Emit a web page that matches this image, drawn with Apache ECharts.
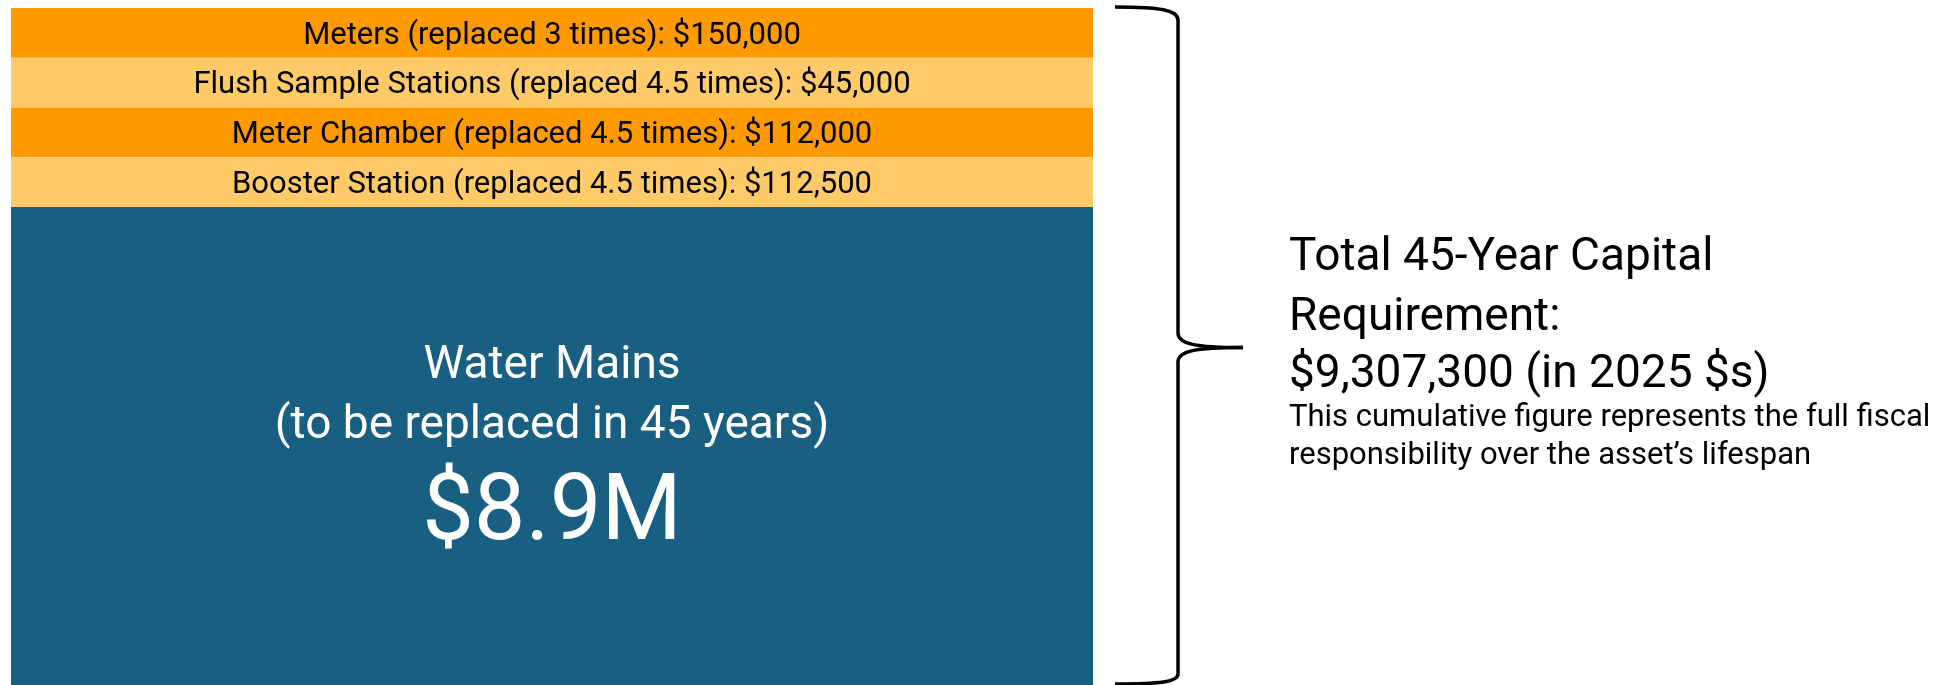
<!DOCTYPE html>
<html>

<head>
    <meta charset="utf-8">
    <title>Total 45-Year Capital Requirement</title>
    <style>
        html, body { margin: 0; padding: 0; background: #fff; }
        #main { width: 1944px; height: 685px; }
    </style>
</head>

<body>
    <div id="main"></div>
</body>
<script type="text/javascript" src="https://cdn.jsdelivr.net/npm/echarts@6/dist/echarts.min.js"></script>
<script type="text/javascript">
    // 数据
    var segments = ['Meters', 'Flush Sample Stations', 'Meter Chamber', 'Booster Station', 'Water Mains'];
    var replacedTimes = [3, 4.5, 4.5, 4.5, null];
    var costs = [150000, 45000, 112000, 112500, 8900000];
    // drawn height of each block (not to scale in the original: four equal bands + mains)
    var blockHeights = [1, 1, 1, 1, 9.6];
    var blockColors = ['#FF9A00', '#FFCA68', '#FF9A00', '#FFCA68', '#185F81'];
    var totalCost = 9307300;
    var costYear = 2025;
    var horizonYears = 45;

    var FONT = 'Roboto, "Noto Sans", sans-serif';

    function money(v) {
        return '$' + v.toLocaleString('en-US');
    }

    var myChart = echarts.init(document.getElementById('main'));

    var series = [];
    for (var i = 0; i < segments.length; i++) {
        var isMains = replacedTimes[i] == null;
        var label;
        if (!isMains) {
            label = {
                show: true,
                position: 'inside',
                offset: [0, 3],
                color: '#000',
                fontFamily: FONT,
                fontSize: 31,
                formatter: segments[i] + ' (replaced ' + replacedTimes[i] + ' times): ' + money(costs[i])
            };
        } else {
            label = {
                show: true,
                position: 'inside',
                offset: [0, 10],
                color: '#fff',
                fontFamily: FONT,
                formatter: '{a|' + segments[i] + '}\n{a|(to be replaced in ' + horizonYears + ' years)}\n{b|$' +
                    (costs[i] / 1e6).toFixed(1) + 'M}',
                rich: {
                    a: { fontFamily: FONT, fontSize: 46, lineHeight: 59.5, color: '#fff', align: 'center' },
                    b: { fontFamily: FONT, fontSize: 92, lineHeight: 119, color: '#fff', align: 'center' }
                }
            };
        }
        series.push({
            name: segments[i],
            type: 'bar',
            stack: 'total',
            barWidth: '100%',
            itemStyle: { color: blockColors[i] },
            label: label,
            data: [blockHeights[i]]
        });
    }

    var sumHeights = 0;
    for (var j = 0; j < blockHeights.length; j++) sumHeights += blockHeights[j];

    // curly brace pieces
    var braceStyle = { fill: 'none', stroke: '#000', lineWidth: 3.5 };
    var brace = [
        { type: 'bezierCurve', shape: { x1: 1115, y1: 7, cpx1: 1160, cpy1: 7, cpx2: 1178, cpy2: 10, x2: 1178, y2: 20 }, style: braceStyle },
        { type: 'line', shape: { x1: 1178, y1: 20, x2: 1178, y2: 333 }, style: braceStyle },
        { type: 'bezierCurve', shape: { x1: 1178, y1: 333, cpx1: 1178, cpy1: 344, cpx2: 1195, cpy2: 347.5, x2: 1243, y2: 347.5 }, style: braceStyle },
        { type: 'bezierCurve', shape: { x1: 1243, y1: 347.5, cpx1: 1195, cpy1: 347.5, cpx2: 1178, cpy2: 351, x2: 1178, y2: 362 }, style: braceStyle },
        { type: 'line', shape: { x1: 1178, y1: 362, x2: 1178, y2: 674 }, style: braceStyle },
        { type: 'bezierCurve', shape: { x1: 1178, y1: 674, cpx1: 1178, cpy1: 682, cpx2: 1160, cpy2: 684, x2: 1115, y2: 684 }, style: braceStyle }
    ];

    var rightX = 1289;
    var texts = [
        { y: 258, size: 46, text: 'Total ' + horizonYears + '-Year Capital' },
        { y: 318, size: 46, text: 'Requirement:' },
        { y: 375, size: 46, text: money(totalCost) + ' (in ' + costYear + ' $s)' },
        { y: 418, size: 31, text: 'This cumulative figure represents the full fiscal' },
        { y: 456, size: 31, text: 'responsibility over the asset\u2019s lifespan' }
    ];
    var graphics = brace.slice();
    texts.forEach(function(t) {
        graphics.push({
            type: 'text',
            x: rightX,
            y: t.y,
            style: { text: t.text, font: t.size + 'px ' + FONT, fill: '#000', verticalAlign: 'middle' }
        });
    });

    var option = {
        backgroundColor: '#fff',
        animation: false,
        grid: { left: 11, top: 8, width: 1082, bottom: 0 },
        xAxis: { type: 'category', data: ['cost'], show: false },
        yAxis: { type: 'value', inverse: true, min: 0, max: sumHeights, show: false },
        series: series,
        graphic: graphics
    };

    myChart.setOption(option);
</script>

</html>
